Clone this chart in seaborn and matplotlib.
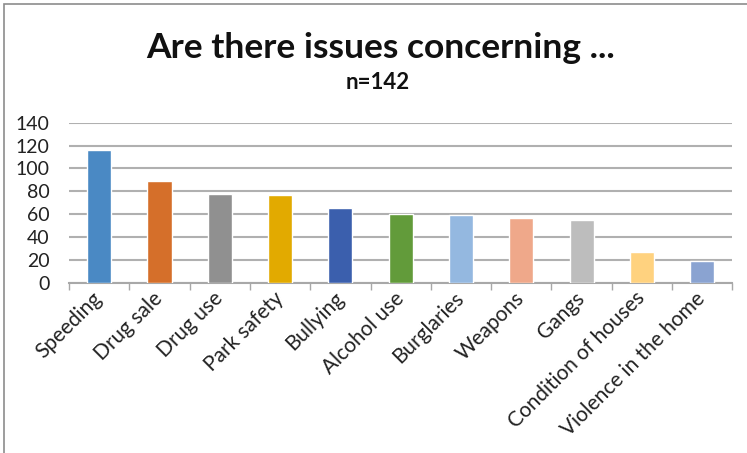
import matplotlib
matplotlib.use("Agg")
import matplotlib.pyplot as plt
import seaborn as sns
import pandas as pd
from matplotlib.patches import Rectangle

categories = ["Speeding", "Drug sale", "Drug use", "Park safety", "Bullying",
              "Alcohol use", "Burglaries", "Weapons", "Gangs",
              "Condition of houses", "Violence in the home"]
values = [116, 89, 78, 77, 65, 60, 59, 57, 55, 27, 19]
colors = ["#4A89C4", "#D56F2A", "#909090", "#E2AA00", "#3B5FAD", "#629B3A",
          "#94B8E0", "#EFA88A", "#BDBDBD", "#FFD27F", "#8AA3D1"]
yticks = [0, 20, 40, 60, 80, 100, 120, 140]
title = "Are there issues concerning ..."
subtitle = "n=142"

sns.set_theme(style="white")
plt.rcParams['font.family'] = ['Lato', 'DejaVu Sans']

df = pd.DataFrame({"cat": categories, "val": values})

fig = plt.figure(figsize=(7.47, 4.53), dpi=100)
ax = fig.add_axes([0.0924, 0.376, 0.888, 0.353])

sns.barplot(data=df, x="cat", y="val", hue="cat", palette=colors,
            legend=False, width=0.4, saturation=1, ax=ax, zorder=3)

ax.set_ylim(0, 140)
ax.set_xlim(-0.5, len(categories) - 0.5)
ax.set_yticks(yticks)
ax.set_yticklabels([str(v) for v in yticks], fontsize=14, color="#222222")
ax.yaxis.grid(True, color="#B0B0B0", linewidth=1.5, zorder=0)
ax.set_axisbelow(True)
for s in ["left", "right", "top"]:
    ax.spines[s].set_visible(False)
ax.spines["bottom"].set_color("#A8A8A8")
ax.spines["bottom"].set_linewidth(1.5)
ax.tick_params(axis="y", length=0, pad=14)

# category boundary ticks below axis
ax.set_xticks([i - 0.5 for i in range(len(categories) + 1)], minor=False)
ax.set_xticklabels([""] * (len(categories) + 1))
ax.tick_params(axis="x", which="major", length=5, width=1, color="#A8A8A8",
               direction="out", bottom=True)
ax.set_xticks(range(len(categories)), minor=True)
ax.set_xticklabels(categories, minor=True, rotation=45, ha="right",
                   rotation_mode="anchor", fontsize=15, color="#222222")
ax.tick_params(axis="x", which="minor", length=0, pad=9)
for lbl in ax.get_xticklabels(minor=True):
    lbl.set_va("center")
ax.set_xlabel("")
ax.set_ylabel("")

fig.text(0.51, 0.893, title, ha="center", va="center", fontsize=25.5,
         fontweight="bold", color="#111111")
fig.text(0.505, 0.818, subtitle, ha="center", va="center", fontsize=16,
         fontweight="bold", color="#111111")

fig.patches.append(Rectangle((0.006, -0.05), 1.1, 1.041, transform=fig.transFigure,
                             fill=False, edgecolor="#8C8C8C", linewidth=1.2))

fig.savefig("out.png", dpi=100)
